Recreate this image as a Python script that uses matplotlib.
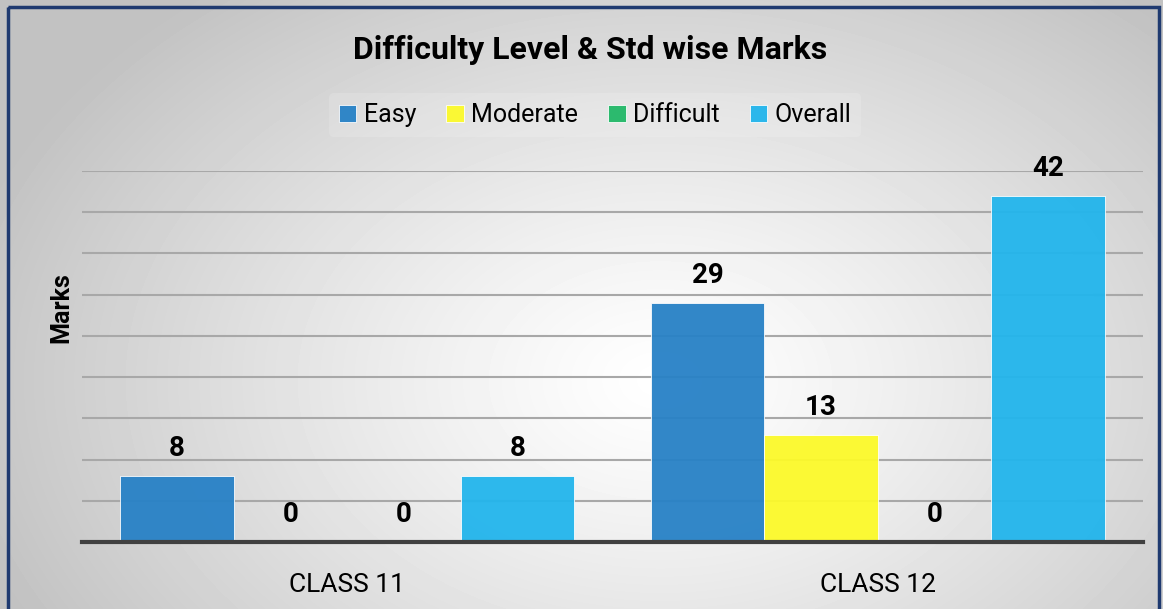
import numpy as np
import matplotlib.pyplot as plt
from matplotlib import font_manager
from matplotlib.patches import Rectangle

# data
categories = ['CLASS 11', 'CLASS 12']
series = ['Easy', 'Moderate', 'Difficult', 'Overall']
easy = [8, 29]
moderate = [0, 13]
difficult = [0, 0]
overall = [8, 42]
colors = ['#2781C6', '#FCFA2A', '#22B868', '#22B5EC']

# pick a narrow font if one is installed
names = {f.name for f in font_manager.fontManager.ttflist}
narrow = 'Liberation Sans Narrow' if 'Liberation Sans Narrow' in names else 'Roboto'
plt.rcParams['font.family'] = [narrow, 'DejaVu Sans']

fig = plt.figure(figsize=(11.63, 6.09), dpi=100)

# radial grey background
bg = fig.add_axes([0, 0, 1, 1], zorder=-10)
yy, xx = np.mgrid[0:609, 0:1163]
r = np.sqrt(((xx - 660) / 720.0) ** 2 + ((yy - 380) / 500.0) ** 2)
shade = 1.0 - 0.24 * np.clip(r, 0, 1) ** 1.2
bg.imshow(shade, cmap='gray', vmin=0, vmax=1, aspect='auto', extent=[0, 1163, 609, 0])
bg.add_patch(Rectangle((8, 7), 1151, 610, fill=False, edgecolor='#1F3A70', linewidth=2.5))
bg.set_xlim(0, 1163)
bg.set_ylim(609, 0)
bg.axis('off')

ax = fig.add_axes([82 / 1163, 1 - 542 / 609, (1143 - 82) / 1163, (542 - 171) / 609])
ax.patch.set_alpha(0)

x = np.arange(len(categories))
w = 0.214
vals = [easy, moderate, difficult, overall]
for i, (name, v, c) in enumerate(zip(series, vals, colors)):
    pos = x + (i - 1.5) * w
    bars = ax.bar(pos, v, w, color=c, label=name, alpha=0.95,
                  edgecolor='white', linewidth=0.6, zorder=2)
    for b, val in zip(bars, v):
        ax.annotate(str(val), (b.get_x() + b.get_width() / 2, val),
                    xytext=(0, 10), textcoords='offset points',
                    ha='center', va='bottom', fontsize=20, fontweight='bold')

ax.set_xlim(-0.5, 1.5)
ax.set_ylim(0, 45)
ax.set_yticks(np.arange(5, 46, 5))
ax.yaxis.grid(True, color='#a8a8a8', linewidth=1.5, zorder=1)
ax.set_axisbelow(True)
ax.tick_params(axis='y', left=False, labelleft=False)
ax.tick_params(axis='x', length=0, labelsize=19, pad=22)
ax.set_xticks(x)
ax.set_xticklabels(categories)
for s in ['top', 'right', 'left']:
    ax.spines[s].set_visible(False)
ax.spines['bottom'].set_color('#404040')
ax.spines['bottom'].set_linewidth(3)
ax.spines['bottom'].set_zorder(3)

ax.set_ylabel('Marks', fontsize=18, fontweight='bold')
ax.yaxis.set_label_coords(-0.008, (542 - 308) / (542 - 171))

fig.text(590 / 1163, 1 - 50 / 609, 'Difficulty Level & Std wise Marks',
         ha='center', va='center', fontsize=23, fontweight='bold')

leg = fig.legend(loc='center', bbox_to_anchor=(595 / 1163, 1 - 115 / 609), ncol=4,
                 fontsize=18, frameon=True, handlelength=0.7, handleheight=0.7,
                 handletextpad=0.3, columnspacing=1.2, borderpad=0.4)
leg.get_frame().set_facecolor('white')
leg.get_frame().set_alpha(0.15)
leg.get_frame().set_edgecolor('none')

fig.savefig('out.png', dpi=100)
